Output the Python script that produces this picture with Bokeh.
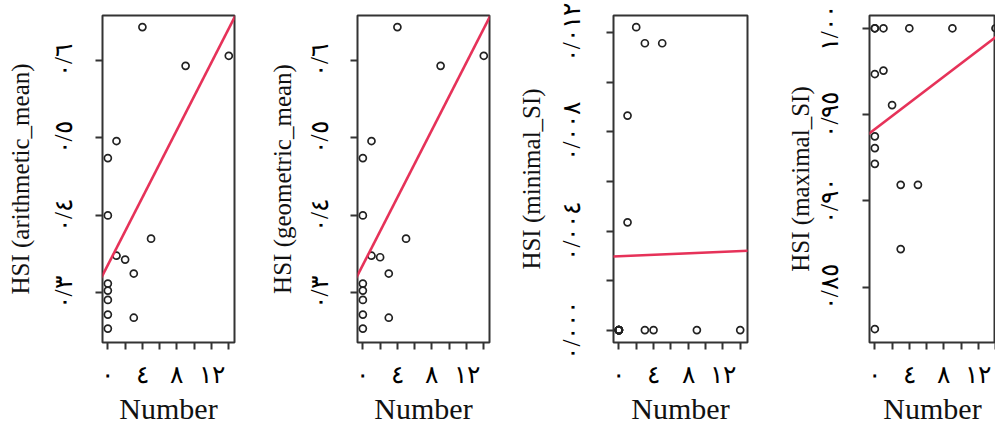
from bokeh.plotting import figure
from bokeh.layouts import row
from bokeh.models import FixedTicker, Slope, Range1d
from bokeh.embed import file_html
from bokeh.resources import INLINE

# ---------------- data ----------------
number = [0, 0, 0, 0, 0, 0, 0, 1, 1, 2, 3, 3, 4, 5, 9, 14]

hsi_arithmetic = [0.474, 0.400, 0.312, 0.303, 0.291, 0.272, 0.254,
                  0.496, 0.348, 0.343, 0.325, 0.268, 0.643, 0.370, 0.593, 0.606]
hsi_geometric = [0.474, 0.400, 0.312, 0.303, 0.291, 0.272, 0.254,
                 0.496, 0.348, 0.346, 0.325, 0.268, 0.643, 0.370, 0.593, 0.606]
hsi_minimal = [0.0, 0.0, 0.0, 0.0, 0.0, 0.0, 0.0,
               0.00866, 0.00435, 0.01223, 0.01158, 0.0, 0.0, 0.01158, 0.0, 0.0]
hsi_maximal = [1.0, 1.0, 0.9735, 0.9374, 0.9306, 0.9215, 0.8258,
               1.0, 0.9755, 0.9555, 0.9093, 0.8721, 1.0, 0.9093, 1.0, 1.0]

# fitted lines (intercept, slope)
fit_arithmetic = (0.336, 0.0218)
fit_geometric = (0.336, 0.0218)
fit_minimal = (0.00298, 0.0000151)
fit_maximal = (0.9416, 0.0038)

y_labels = ["HSI (arithmetic_mean)", "HSI (geometric_mean)",
            "HSI (minimal_SI)", "HSI (maximal_SI)"]
x_label = "Number"

x_ticks = [0, 2, 4, 6, 8, 10, 12, 14]
x_tick_labels = ["٠", "", "٤", "", "٨", "", "١٢", ""]

mean_ticks = [0.3, 0.4, 0.5, 0.6]
mean_tick_labels = ["٠/٣", "٠/٤", "٠/٥", "٠/٦"]
min_ticks = [0.0, 0.002, 0.004, 0.006, 0.008, 0.010, 0.012]
min_tick_labels = ["٠/٠٠٠", "", "٠/٠٠٤", "", "٠/٠٠٨", "", "٠/٠١٢"]
max_ticks = [0.85, 0.90, 0.95, 1.00]
max_tick_labels = ["٠/٨٥", "٠/٩٠", "٠/٩٥", "١/٠٠"]

# ---------------- style ----------------
RED = "#E63259"
INK = "#222222"
SERIF = "Liberation Serif"


def panel(ylabel, yvals, fit, yticks, ylabels, yrange, width, frame_w, x_end,
          tick_standoff, ylab_standoff):
    p = figure(width=width, height=434,
               x_range=Range1d(-0.62, x_end), y_range=Range1d(*yrange),
               output_backend="svg", toolbar_location=None,
               min_border_left=102, min_border_right=width - 102 - frame_w,
               min_border_top=15, min_border_bottom=92)
    p.grid.visible = False
    p.outline_line_color = "#333333"
    p.outline_line_width = 2
    p.background_fill_color = "white"
    p.border_fill_color = "white"

    p.scatter(number, yvals, size=7, marker="circle", fill_color=None,
              line_color=INK, line_width=1.7)
    p.add_layout(Slope(gradient=fit[1], y_intercept=fit[0],
                       line_color=RED, line_width=2.6))

    xa = p.xaxis[0]
    xa.ticker = FixedTicker(ticks=x_ticks)
    xa.major_label_overrides = dict(zip(x_ticks, x_tick_labels))
    ya = p.yaxis[0]
    ya.ticker = FixedTicker(ticks=yticks)
    ya.major_label_overrides = dict(zip(yticks, ylabels))
    ya.major_label_orientation = "vertical"

    for ax in (xa, ya):
        ax.axis_line_color = None
        ax.minor_tick_line_color = None
        ax.major_tick_out = 7
        ax.major_tick_in = 0
        ax.major_tick_line_color = "#333333"
        ax.major_tick_line_width = 2
        ax.major_label_text_font = SERIF
        ax.major_label_text_font_size = "25px"
        ax.major_label_text_color = "black"
        ax.axis_label_text_font = SERIF
        ax.axis_label_text_font_style = "normal"
        ax.axis_label_text_color = "#111111"

    xa.axis_label = x_label
    xa.axis_label_text_font_size = "30px"
    xa.major_label_standoff = 11
    xa.axis_label_standoff = 1
    ya.axis_label = ylabel
    ya.axis_label_text_font_size = "25px"
    ya.major_label_standoff = tick_standoff
    ya.axis_label_standoff = ylab_standoff
    return p


p1 = panel(y_labels[0], hsi_arithmetic, fit_arithmetic, mean_ticks,
           mean_tick_labels, (0.236, 0.658), 255, 132, 14.66, 18, 14)
p2 = panel(y_labels[1], hsi_geometric, fit_geometric, mean_ticks,
           mean_tick_labels, (0.236, 0.658), 256, 132, 14.66, 17, 8)
p3 = panel(y_labels[2], hsi_minimal, fit_minimal, min_ticks,
           min_tick_labels, (-0.0005, 0.0127), 256, 134, 14.84, 21, 11)
p4 = panel(y_labels[3], hsi_maximal, fit_maximal, max_ticks,
           max_tick_labels, (0.818, 1.0074), 228, 126, 14.0, 19, 0)

layout = row(p1, p2, p3, p4, spacing=0)
open("out.html", "w").write(file_html(layout, INLINE))
